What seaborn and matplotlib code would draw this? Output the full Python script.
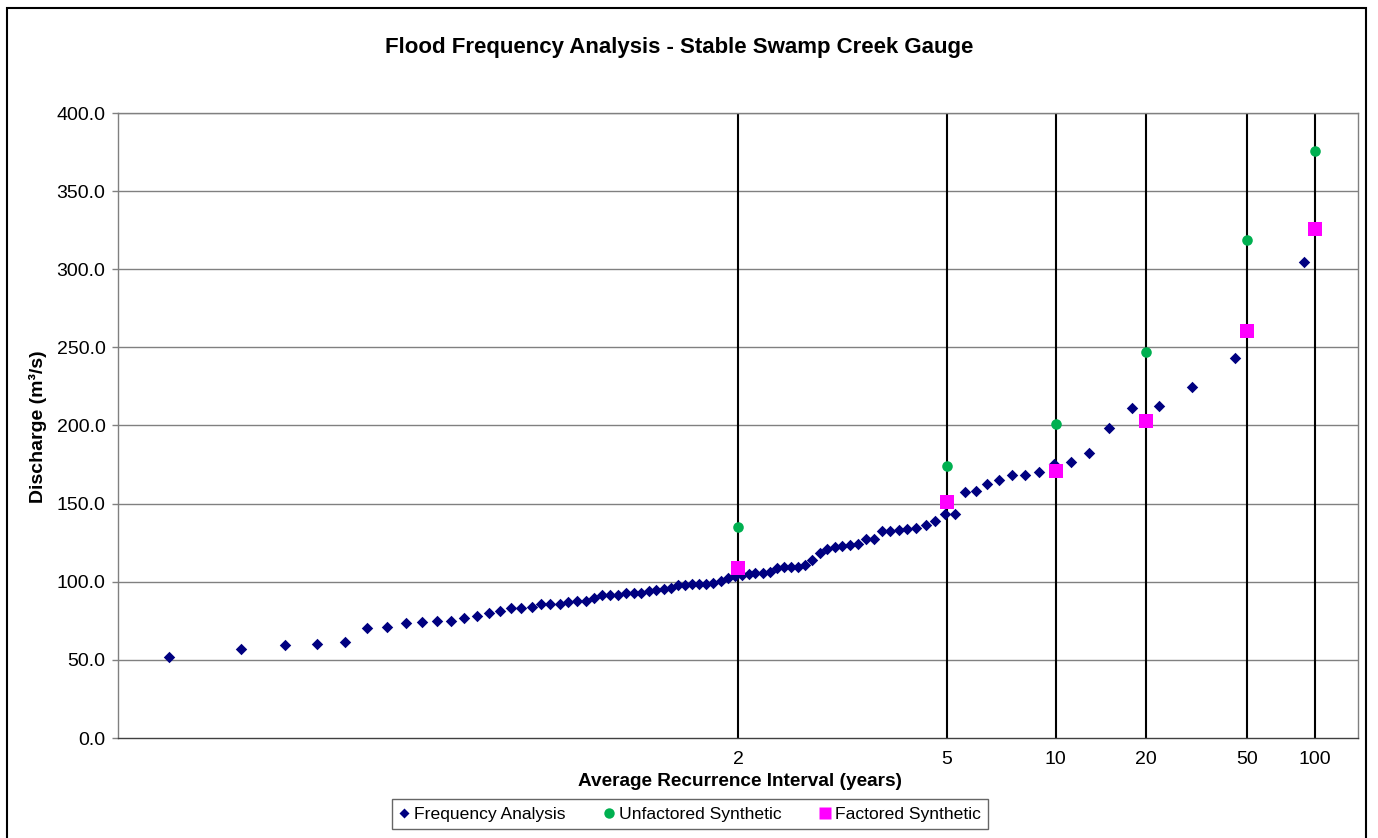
from statistics import NormalDist

import matplotlib
matplotlib.use("Agg")
import matplotlib.pyplot as plt
import matplotlib.patches as mpatches
from matplotlib.lines import Line2D
import numpy as np
import seaborn as sns

# Annual maxima series: average recurrence interval (years) and discharge (m3/s)
freq_ari = [
    1.011, 1.023, 1.035, 1.047, 1.060, 1.072, 1.085, 1.099, 1.113, 1.127,
    1.141, 1.156, 1.171, 1.187, 1.203, 1.219, 1.236, 1.254, 1.271, 1.290,
    1.309, 1.328, 1.348, 1.369, 1.391, 1.413, 1.435, 1.459, 1.483, 1.508,
    1.534, 1.561, 1.589, 1.618, 1.648, 1.679, 1.712, 1.745, 1.780, 1.816,
    1.854, 1.894, 1.935, 1.978, 2.023, 2.070, 2.119, 2.171, 2.225, 2.282,
    2.342, 2.405, 2.472, 2.543, 2.618, 2.697, 2.781, 2.871, 2.967, 3.069,
    3.179, 3.296, 3.423, 3.560, 3.708, 3.870, 4.045, 4.238, 4.450, 4.684,
    4.944, 5.235, 5.563, 5.933, 6.357, 6.846, 7.417, 8.091, 8.900, 9.889,
    11.125, 12.714, 14.833, 17.800, 22.250, 29.667, 44.500, 89.000,
]
freq_q = [
    52.0, 57.0, 59.5, 60.2, 61.4, 70.6, 71.0, 73.4, 74.0, 74.7,
    75.1, 76.8, 77.9, 80.0, 81.1, 83.2, 83.2, 83.6, 85.6, 85.6,
    85.6, 86.8, 87.7, 87.7, 89.8, 91.3, 91.5, 91.5, 92.6, 92.8,
    92.8, 93.9, 94.7, 95.6, 95.8, 97.7, 97.7, 98.6, 98.6, 98.6,
    99.2, 100.5, 102.6, 103.4, 104.1, 105.2, 105.4, 105.8, 106.2, 109.0,
    109.2, 109.2, 109.6, 110.5, 113.9, 118.6, 120.8, 122.0, 123.1, 123.5,
    124.2, 127.2, 127.4, 132.3, 132.7, 133.3, 133.6, 134.6, 136.1, 138.9,
    143.2, 143.4, 157.6, 157.8, 162.3, 164.9, 168.1, 168.3, 170.0, 175.2,
    176.4, 182.2, 198.2, 211.0, 212.2, 224.4, 243.4, 304.6,
]

# Design events from the synthetic (rainfall-runoff) estimates
synth_ari = [2, 5, 10, 20, 50, 100]
unfactored_q = [134.8, 174.1, 201.0, 247.0, 318.7, 375.9]
factored_q = [108.6, 150.8, 171.1, 202.9, 260.3, 326.0]

ari_ticks = [2, 5, 10, 20, 50, 100]
y_ticks = [0, 50, 100, 150, 200, 250, 300, 350, 400]

_nd = NormalDist()


def ari_to_z(ari):
    """Normal probability-paper coordinate of a recurrence interval."""
    return np.array([_nd.inv_cdf(1.0 - 1.0 / t) for t in np.atleast_1d(ari)])


sns.set_style("white")
plt.rcParams["font.family"] = ["Liberation Sans", "DejaVu Sans"]
plt.rcParams.update({"text.color": "black", "axes.labelcolor": "black",
                     "xtick.color": "black", "ytick.color": "black"})

W, H = 1378, 838
fig = plt.figure(figsize=(W / 100, H / 100), dpi=100)
ax = fig.add_axes([118 / W, (H - 738) / H, 1240 / W, 625 / H])

navy = "#000080"
green = "#00B050"
magenta = "#FF00FF"

sns.scatterplot(x=ari_to_z(freq_ari), y=freq_q, ax=ax, marker="D", s=34,
                color=navy, linewidth=0, zorder=3, legend=False)
sns.scatterplot(x=ari_to_z(synth_ari), y=unfactored_q, ax=ax, marker="o", s=58,
                color=green, linewidth=0, zorder=4, legend=False)
sns.scatterplot(x=ari_to_z(synth_ari), y=factored_q, ax=ax, marker="s", s=100,
                color=magenta, linewidth=0, zorder=5, legend=False)

ax.set_xlim(-2.5, 2.5)
ax.set_ylim(0, 400)
ax.set_xticks(ari_to_z(ari_ticks))
ax.set_xticklabels([str(t) for t in ari_ticks])
ax.set_yticks(y_ticks)
ax.set_yticklabels([f"{v:.1f}" for v in y_ticks])

ax.grid(False)
for v in y_ticks[1:]:
    ax.axhline(v, color="#808080", lw=1.0, zorder=1)
for z in ari_to_z(ari_ticks):
    ax.axvline(z, color="black", lw=1.5, zorder=2)

for side in ["left", "bottom", "right", "top"]:
    ax.spines[side].set_color("#808080")
    ax.spines[side].set_linewidth(1.0)
ax.spines["bottom"].set_color("#404040")

ax.tick_params(axis="y", direction="out", length=4, width=1, color="#808080",
               pad=5, labelsize=14, left=True)
ax.tick_params(axis="x", length=0, pad=9, labelsize=14)
ax.set_xlabel("")
ax.set_ylabel("")

fig.text(679 / W, 1 - 47 / H, "Flood Frequency Analysis - Stable Swamp Creek Gauge",
         ha="center", va="center", fontsize=16, fontweight="bold")
fig.text(740 / W, 1 - 781 / H, "Average Recurrence Interval (years)",
         ha="center", va="center", fontsize=13.7, fontweight="bold")
fig.text(38 / W, 1 - 427 / H, "Discharge (m³/s)", rotation=90,
         ha="center", va="center", fontsize=14, fontweight="bold")

# Chart-area border
fig.patches.append(mpatches.Rectangle((7 / W, -0.05), 1359 / W, 1.05 - 8 / H,
                                      transform=fig.transFigure, fill=False,
                                      edgecolor="black", lw=1.5))

handles = [
    Line2D([], [], ls="none", marker="D", ms=5, color=navy, mec="none"),
    Line2D([], [], ls="none", marker="o", ms=7.5, color=green, mec="none"),
    Line2D([], [], ls="none", marker="s", ms=8, color=magenta, mec="none"),
]
labels = ["Frequency Analysis", "Unfactored Synthetic", "Factored Synthetic"]
leg = fig.legend(handles, labels, loc="center", bbox_to_anchor=(690 / W, 1 - 814 / H),
                 ncol=3, frameon=True, fancybox=False, edgecolor="#404040",
                 fontsize=12.6, handlelength=0.6, handletextpad=0.25, columnspacing=2.2,
                 borderpad=0.4, borderaxespad=0)
leg.get_frame().set_linewidth(1.0)

fig.savefig("out.png", dpi=100)
